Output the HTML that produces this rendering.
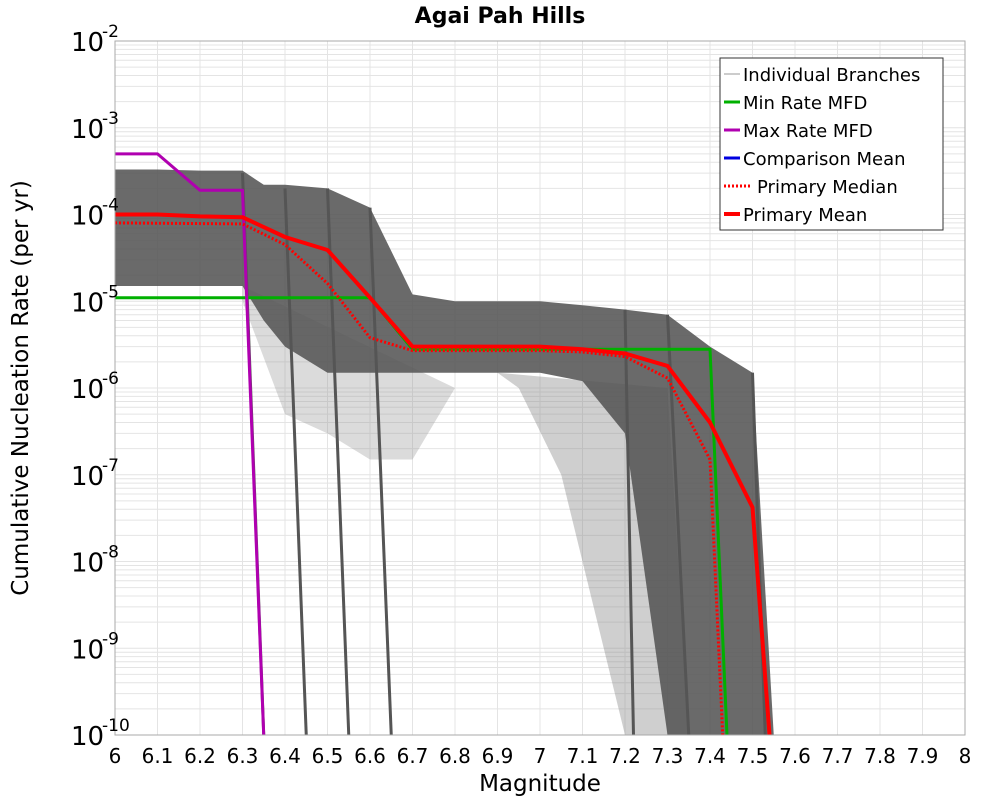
<!DOCTYPE html>
<html><head><meta charset="utf-8"><style>
body{margin:0;background:#fff;font-family:"Liberation Sans","DejaVu Sans",sans-serif}
svg text{font-family:"DejaVu Sans","Liberation Sans",sans-serif}
</style></head><body>
<svg id="chart" width="1000" height="800" xmlns="http://www.w3.org/2000/svg">
<rect width="1000" height="800" fill="#fff"/>
<text x="500" y="23" text-anchor="middle" font-size="22" font-weight="bold">Agai Pah Hills</text>
<text x="540" y="791" text-anchor="middle" font-size="23">Magnitude</text>
<text transform="translate(28,388) rotate(-90)" text-anchor="middle" font-size="23">Cumulative Nucleation Rate (per yr)</text>
<g id="grid"></g><g id="bands"></g><g id="series"></g><g id="axes"></g>
<g>
<rect x="720" y="58" width="223" height="172" fill="#fff" stroke="#333" stroke-width="1"/>
<line x1="724" y1="74" x2="740" y2="74" stroke="#999" stroke-width="1"/><text x="743" y="81" font-size="18">Individual Branches</text>
<line x1="724" y1="102" x2="740" y2="102" stroke="#00b000" stroke-width="3"/><text x="743" y="109" font-size="18">Min Rate MFD</text>
<line x1="724" y1="130" x2="740" y2="130" stroke="#b000b0" stroke-width="3"/><text x="743" y="137" font-size="18">Max Rate MFD</text>
<line x1="724" y1="158" x2="740" y2="158" stroke="#0000e0" stroke-width="3"/><text x="743" y="165" font-size="18">Comparison Mean</text>
<line x1="724" y1="186" x2="750" y2="186" stroke="#f00" stroke-width="3" stroke-dasharray="2,2"/><text x="757" y="193" font-size="18">Primary Median</text>
<line x1="724" y1="214" x2="740" y2="214" stroke="#f00" stroke-width="4"/><text x="743" y="221" font-size="18">Primary Mean</text>
</g>
</svg>
<script>
const xTicks=[6,6.1,6.2,6.3,6.4,6.5,6.6,6.7,6.8,6.9,7,7.1,7.2,7.3,7.4,7.5,7.6,7.7,7.8,7.9,8];
const yExps=[-2,-3,-4,-5,-6,-7,-8,-9,-10];
const meanM=[6,6.1,6.2,6.3,6.4,6.5,6.6,6.7,6.8,6.9,7,7.1,7.2,7.3,7.4,7.5,7.54];
const meanV=[1e-4,1e-4,9.5e-5,9.3e-5,5.5e-5,3.9e-5,1.1e-5,3e-6,3e-6,3e-6,3e-6,2.8e-6,2.5e-6,1.8e-6,4e-7,4.2e-8,1e-10];
const medM=[6,6.3,6.4,6.5,6.6,6.7,6.8,6.9,7,7.1,7.2,7.3,7.4,7.43];
const medV=[8e-5,7.8e-5,4.5e-5,1.6e-5,3.8e-6,2.7e-6,2.7e-6,2.7e-6,2.7e-6,2.6e-6,2.3e-6,1.3e-6,1.5e-7,1e-10];
const minM=[6,6.6,6.7,7.4,7.44];
const minV=[1.1e-5,1.1e-5,2.8e-6,2.8e-6,1e-10];
const maxM=[6,6.1,6.2,6.3,6.35];
const maxV=[5e-4,5e-4,1.9e-4,1.9e-4,1e-10];
const bandM=[6,6.1,6.2,6.3,6.35,6.4,6.5,6.6,6.7,6.8,6.9,7,7.1,7.2,7.3,7.4,7.5,7.55];
const bandHi=[3.3e-4,3.3e-4,3.2e-4,3.2e-4,2.2e-4,2.2e-4,2e-4,1.2e-4,1.2e-5,1e-5,1e-5,1e-5,9e-6,8e-6,7e-6,3e-6,1.5e-6,1e-10];
const bandLo=[1.5e-5,1.5e-5,1.5e-5,1.5e-5,6e-6,3e-6,1.5e-6,1.5e-6,1.5e-6,1.5e-6,1.5e-6,1.5e-6,1.2e-6,3e-7,1e-10,1e-10,1e-10,1e-10];
const lightM=[6.3,6.4,6.5,6.6,6.7,6.8];
const lightV=[1e-5,5e-7,3e-7,1.5e-7,1.5e-7,1e-6];
const fanM=[6.95,7.05,7.15,7.2,7.25,7.35];
const fanV=[1e-6,1e-7,1e-9,1e-10,1e-10,1e-10];
const dropM=[6.3,6.4,6.5,6.6,7.2,7.3,7.5];
const dropV=[3e-4,2e-4,2e-4,1.2e-4,8e-6,7e-6,1.5e-6];
const dropEnd=[6.35,6.45,6.55,6.65,7.22,7.35,7.53];

const X0=115,X1=965,Y0=41,Y1=735;
const xs=m=>X0+(m-6)/2*(X1-X0);
const ys=v=>Y0+(-2-Math.log10(v))/8*(Y1-Y0);
const NS="http://www.w3.org/2000/svg";
function mk(t,a,p){const e=document.createElementNS(NS,t);for(const k in a)e.setAttribute(k,a[k]);p.appendChild(e);return e;}
const grid=document.getElementById('grid'),bands=document.getElementById('bands'),ser=document.getElementById('series'),axes=document.getElementById('axes');
mk('rect',{x:X0,y:Y0,width:X1-X0,height:Y1-Y0,fill:'#fff'},grid);
for(let e=-10;e<-2;e++)for(let k=1;k<10;k++){const y=ys(k*Math.pow(10,e));const l=mk('line',{x1:X0,x2:X1,y1:y,y2:y,stroke:'#e4e4e4','stroke-width':1},grid);

}
xTicks.forEach(m=>{const l=mk('line',{x1:xs(m),x2:xs(m),y1:Y0,y2:Y1,stroke:'#e4e4e4','stroke-width':1},grid);

});
function poly(M,V){return M.map((m,i)=>xs(m).toFixed(1)+','+ys(V[i]).toFixed(1)).join(' ');}
const lp=[xs(6.3)+','+ys(1.5e-5)].concat(lightM.map((m,i)=>xs(m)+','+ys(lightV[i]))).join(' ');
const light=mk('polygon',{points:lp,fill:'#999','fill-opacity':0.35},bands);


const fp=[xs(6.9)+','+ys(1.5e-6)].concat(fanM.map((m,i)=>xs(m)+','+ys(fanV[i]))).concat([xs(7.3)+','+ys(1e-6)]).join(' ');
const fan=mk('polygon',{points:fp,fill:'#888','fill-opacity':0.4},bands);


const bp=bandM.map((m,i)=>xs(m)+','+ys(bandHi[i])).concat(bandM.slice().reverse().map((m,i)=>xs(m)+','+ys(bandLo[bandM.length-1-i]))).join(' ');
const band=mk('polygon',{points:bp,fill:'#555','fill-opacity':0.88},bands);


dropM.forEach((m,i)=>{const l=mk('line',{x1:xs(m),y1:ys(dropV[i]),x2:xs(dropEnd[i]),y2:Y1,stroke:'#555','stroke-width':3},bands);

});
function line(M,V,c,w,name,dash){const a={points:poly(M,V),fill:'none',stroke:c,'stroke-width':w,'stroke-linejoin':'round'};if(dash)a['stroke-dasharray']=dash;const p=mk('polyline',a,ser);

}
line(minM,minV,'#00b000',3,'min-rate-line');
line(maxM,maxV,'#b000b0',3,'max-rate-line');
line(medM,medV,'#f00',3,'primary-median-line','2,2');
line(meanM,meanV,'#f00',4,'primary-mean-line');
const fr=mk('rect',{x:X0,y:Y0,width:X1-X0,height:Y1-Y0,fill:'none',stroke:'#aaa','stroke-width':1},axes);


xTicks.forEach(m=>{const t=mk('text',{x:xs(m),y:763,'text-anchor':'middle','font-size':20},axes);t.textContent=String(m);

});
yExps.forEach(e=>{const y=ys(Math.pow(10,e));const t=mk('text',{x:71,y:y+10,'font-size':26},axes);t.textContent='10';


const s=mk('text',{x:102,y:y-4,'font-size':17},axes);s.textContent=String(e);

});
</script>
</body></html>
